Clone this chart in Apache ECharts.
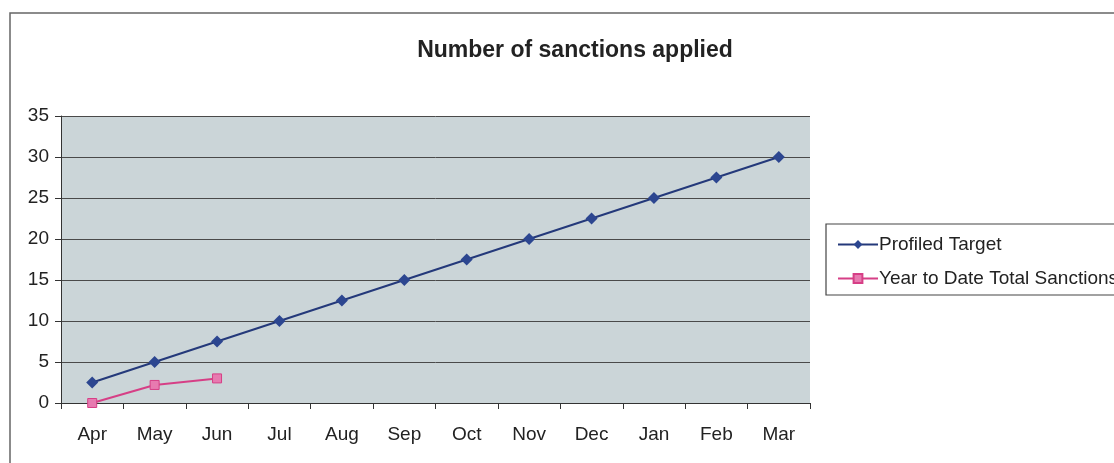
<!DOCTYPE html>
<html>
<head>
<meta charset="utf-8">
<script src="https://cdn.jsdelivr.net/npm/echarts@6/dist/echarts.min.js"></script>
<style>
  html, body { margin: 0; padding: 0; background: #fff; }
  #main { width: 1114px; height: 463px; }
</style>
</head>
<body>
<div id="main"></div>
<script>
var months = ['Apr', 'May', 'Jun', 'Jul', 'Aug', 'Sep', 'Oct', 'Nov', 'Dec', 'Jan', 'Feb', 'Mar'];
var profiledTarget = [2.5, 5, 7.5, 10, 12.5, 15, 17.5, 20, 22.5, 25, 27.5, 30];
var ytdSanctions = [0, 2.2, 3];

var chart = echarts.init(document.getElementById('main'));
var option = {
  backgroundColor: '#fff',
  textStyle: { fontFamily: 'Liberation Sans, Arial, sans-serif' },
  title: {
    text: 'Number of sanctions applied',
    left: 570,
    top: 34,
    textAlign: 'center',
    textStyle: { fontSize: 23, fontWeight: 'bold', color: '#222' }
  },
  graphic: [
    {
      type: 'rect',
      shape: { x: 10, y: 13, width: 1200, height: 500 },
      style: { fill: 'none', stroke: '#666', lineWidth: 1.5 },
      silent: true
    },
    {
      type: 'rect',
      shape: { x: 826, y: 224, width: 300, height: 71 },
      style: { fill: 'none', stroke: '#444', lineWidth: 1.2 },
      silent: true
    }
  ],
  legend: {
    orient: 'vertical',
    left: 832,
    top: 230,
    itemGap: 15,
    itemWidth: 40,
    itemHeight: 11,
    textStyle: { fontSize: 19, color: '#222', padding: [0, 0, 0, -4] },
    data: ['Profiled Target', 'Year to Date Total Sanctions']
  },
  grid: { left: 61, top: 116, width: 749, height: 287 },
  xAxis: {
    type: 'category',
    data: months,
    boundaryGap: true,
    axisLine: { lineStyle: { color: '#333', width: 1 } },
    axisTick: { show: true, length: 6, alignWithLabel: false, lineStyle: { color: '#333' } },
    axisLabel: { fontSize: 19, color: '#222', margin: 22 },
    splitArea: { show: false }
  },
  yAxis: {
    type: 'value',
    min: 0,
    max: 35,
    interval: 5,
    axisLine: { show: true, lineStyle: { color: '#333', width: 1 } },
    axisTick: { show: true, length: 6, lineStyle: { color: '#333' } },
    axisLabel: { fontSize: 19, color: '#222', margin: 12 },
    splitLine: { lineStyle: { color: '#4a4a4a', width: 1 } },
    splitArea: { show: true, areaStyle: { color: ['#cbd5d8'] } }
  },
  series: [
    {
      name: 'Profiled Target',
      type: 'line',
      data: profiledTarget,
      symbol: 'diamond',
      symbolSize: 12,
      color: '#24397a',
      lineStyle: { width: 2, color: '#24397a' },
      itemStyle: { color: '#2c4690' }
    },
    {
      name: 'Year to Date Total Sanctions',
      type: 'line',
      data: ytdSanctions,
      symbol: 'rect',
      symbolSize: 9,
      color: '#d63f86',
      lineStyle: { width: 2, color: '#d63f86' },
      itemStyle: { color: '#e77ab0', borderColor: '#d63f86', borderWidth: 1 }
    }
  ]
};
chart.setOption(option);
</script>
</body>
</html>
